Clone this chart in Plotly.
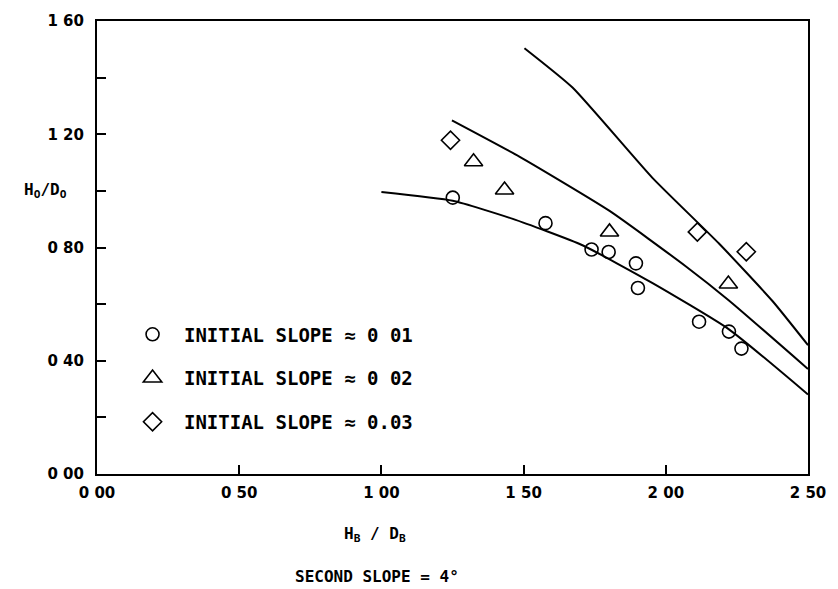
import plotly.graph_objects as go

# ---- data ----
slope1_x = [1.251, 1.577, 1.739, 1.799, 1.895, 1.902, 2.117, 2.222, 2.266]
slope1_y = [0.976, 0.886, 0.793, 0.784, 0.744, 0.657, 0.538, 0.503, 0.443]

slope2_x = [1.324, 1.433, 1.802, 2.220]
slope2_y = [1.103, 1.003, 0.855, 0.671]

slope3_x = [1.243, 2.111, 2.283]
slope3_y = [1.179, 0.855, 0.785]

curve1_x = [1.000, 1.251, 1.462, 1.707, 1.952, 2.222, 2.500]
curve1_y = [0.996, 0.965, 0.901, 0.808, 0.675, 0.511, 0.281]

curve2_x = [1.248, 1.485, 1.801, 2.071, 2.222, 2.500]
curve2_y = [1.249, 1.121, 0.930, 0.733, 0.613, 0.371]

curve3_x = [1.503, 1.672, 1.953, 2.187, 2.375, 2.500]
curve3_y = [1.504, 1.365, 1.046, 0.814, 0.611, 0.455]

x_ticks = [0.0, 0.5, 1.0, 1.5, 2.0, 2.5]
x_tick_labels = ["0 00", "0 50", "1 00", "1 50", "2 00", "2 50"]
y_ticks = [0.0, 0.2, 0.4, 0.6, 0.8, 1.0, 1.2, 1.4, 1.6]
y_tick_labels = ["0 00", "", "0 40", "", "0 80", "", "1 20", "", "1 60"]

legend_names = ["INITIAL SLOPE ≈ 0 01", "INITIAL SLOPE ≈ 0 02", "INITIAL SLOPE ≈ 0.03"]

MONO = "DejaVu Sans Mono"
SANS = "DejaVu Sans"
TICKF = dict(family=SANS, size=15, color="black", weight="bold")
TITLEF = dict(family=MONO, size=16, color="black", weight="bold")

fig = go.Figure()

for cx, cy in [(curve1_x, curve1_y), (curve2_x, curve2_y), (curve3_x, curve3_y)]:
    fig.add_trace(go.Scatter(x=cx, y=cy, mode="lines",
                             line=dict(color="black", width=2, shape="spline", smoothing=0.5),
                             showlegend=False, hoverinfo="skip"))

series = [
    (slope1_x, slope1_y, "circle-open", 13, legend_names[0]),
    (slope2_x, slope2_y, "triangle-up-open", 16, legend_names[1]),
    (slope3_x, slope3_y, "diamond-open", 14, legend_names[2]),
]
for i, (sx, sy, sym, sz, name) in enumerate(series):
    fig.add_trace(go.Scatter(x=sx, y=sy, mode="markers", name=" " + name,
                             legendgroup=f"g{i}",
                             marker=dict(symbol=sym, size=sz, color="black",
                                         line=dict(color="black", width=1.6))))

fig.update_layout(
    width=838, height=589,
    margin=dict(l=97, r=29, t=14, b=115),
    paper_bgcolor="white", plot_bgcolor="white",
    font=TICKF,
    showlegend=True,
    legend=dict(x=0.05, y=0.35, xanchor="left", yanchor="top",
                bgcolor="rgba(0,0,0,0)", borderwidth=0,
                font=dict(family=MONO, size=19, color="black", weight="bold"),
                tracegroupgap=16, itemwidth=30),
    xaxis=dict(range=[0, 2.5], tickmode="array", tickvals=x_ticks, ticktext=x_tick_labels,
               ticks="inside", ticklen=9, tickwidth=1.5, tickcolor="black",
               showline=True, linecolor="black", linewidth=2, mirror=True,
               showgrid=False, zeroline=False, fixedrange=True,
               ticklabelstandoff=4, tickfont=TICKF),
    yaxis=dict(range=[0, 1.6], tickmode="array", tickvals=y_ticks, ticktext=y_tick_labels,
               ticks="inside", ticklen=9, tickwidth=1.5, tickcolor="black",
               showline=True, linecolor="black", linewidth=2, mirror=True,
               showgrid=False, zeroline=False, fixedrange=True,
               ticklabelstandoff=8, tickfont=TICKF),
    annotations=[
        dict(text="H<sub>O</sub>/D<sub>O</sub>", xref="paper", yref="paper",
             x=-0.072, y=(474 - 186) / 460, xanchor="center", yanchor="middle",
             showarrow=False, font=TITLEF),
        dict(text="H<sub>B</sub> / D<sub>B</sub>", xref="paper", yref="paper",
             x=(375 - 97) / 712, y=-(535 - 474) / 460, xanchor="center", yanchor="middle",
             showarrow=False, font=TITLEF),
        dict(text="SECOND SLOPE = 4°", xref="paper", yref="paper",
             x=(377 - 97) / 712, y=-(578 - 474) / 460, xanchor="center", yanchor="middle",
             showarrow=False, font=TITLEF),
    ],
)

fig.write_html("out.html")
